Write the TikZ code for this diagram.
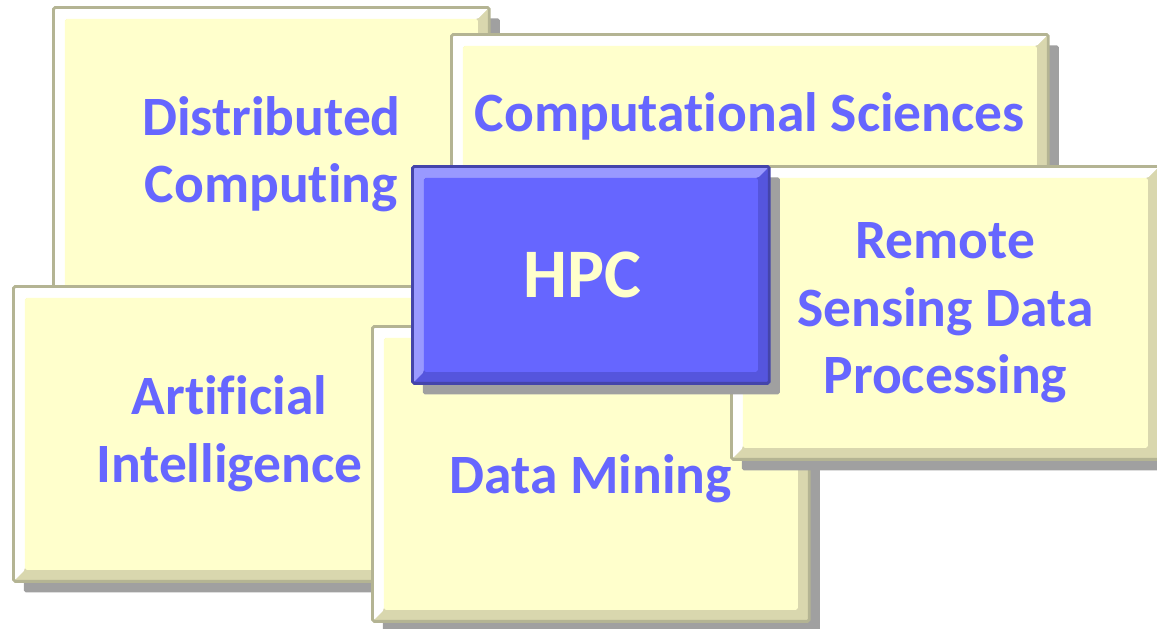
\documentclass[tikz,border=0pt]{standalone}
\usepackage{fontspec}
\newfontfamily\carlito[Ligatures=NoCommon]{Carlito}
\usetikzlibrary{shadows}

\definecolor{paleface}{HTML}{FFFFCC}
\definecolor{palerim}{HTML}{B4B493}
\definecolor{palelow}{HTML}{D9D7AE}
\definecolor{hubface}{HTML}{6666FF}
\definecolor{hubrim}{HTML}{4444AA}
\definecolor{hubhigh}{HTML}{9999FF}
\definecolor{hublow}{HTML}{5555DD}
\definecolor{topictext}{HTML}{6666FF}
\definecolor{shadowgray}{HTML}{A0A0A0}

\begin{document}
\begin{tikzpicture}[x=0.02cm,y=-0.02cm,
bevel/.style n args={4}{fill=#3,draw=#1,line width=1.6pt,rounded corners=1pt,
  path picture={
    \coordinate (nw) at (path picture bounding box.north west);
    \coordinate (se) at (path picture bounding box.south east);
    \fill[#2] (nw) -- (nw -| se) -- ([xshift=-0.23cm,yshift=-0.23cm]nw -| se)
      -- ([xshift=0.23cm,yshift=-0.23cm]nw) -- ([xshift=0.23cm,yshift=0.23cm]nw |- se)
      -- (nw |- se) -- cycle;
    \fill[#4] ([xshift=0.23cm,yshift=-0.23cm]nw) rectangle ([xshift=-0.23cm,yshift=0.23cm]se);
  }},
boxshadow/.style={drop shadow={shadow xshift=0.21cm,shadow yshift=-0.22cm,fill=shadowgray,opacity=1}},
topic/.style={rectangle,anchor=north west,boxshadow,bevel={palerim}{white}{palelow}{paleface},
  align=center,text=topictext,font=\carlito\bfseries\fontsize{31.6}{38.4}\selectfont},
hub/.style={rectangle,anchor=north west,boxshadow,bevel={hubrim}{hubhigh}{hublow}{hubface},
  align=center,text=paleface,font=\carlito\bfseries\fontsize{39.6}{46}\selectfont}]
\useasboundingbox (0,0) rectangle (1157,629);
\clip (0,0) rectangle (1157,629);
% boxes, back to front
\node[topic,minimum width=8.72cm,minimum height=5.88cm] (dist) at (52,6) {Distributed\\Computing};
\node[topic,minimum width=11.94cm,minimum height=3.28cm] (comp) at (450,33) {Computational Sciences};
\node[topic,minimum width=8.64cm,minimum height=5.9cm] (ai) at (12,285) {Artificial\\Intelligence};
\node[topic,minimum width=8.74cm,minimum height=5.9cm] (mining) at (371,325) {\raisebox{-0.1cm}[\height][\depth]{Data Mining}};
\node[topic,minimum width=8.56cm,minimum height=5.86cm] (remote) at (730,165) {Remote\\Sensing Data\\Processing};
\node[hub,minimum width=7.14cm,minimum height=4.34cm] (hpc) at (411,165) {HPC\hspace*{0.34cm}};
\end{tikzpicture}
\end{document}
